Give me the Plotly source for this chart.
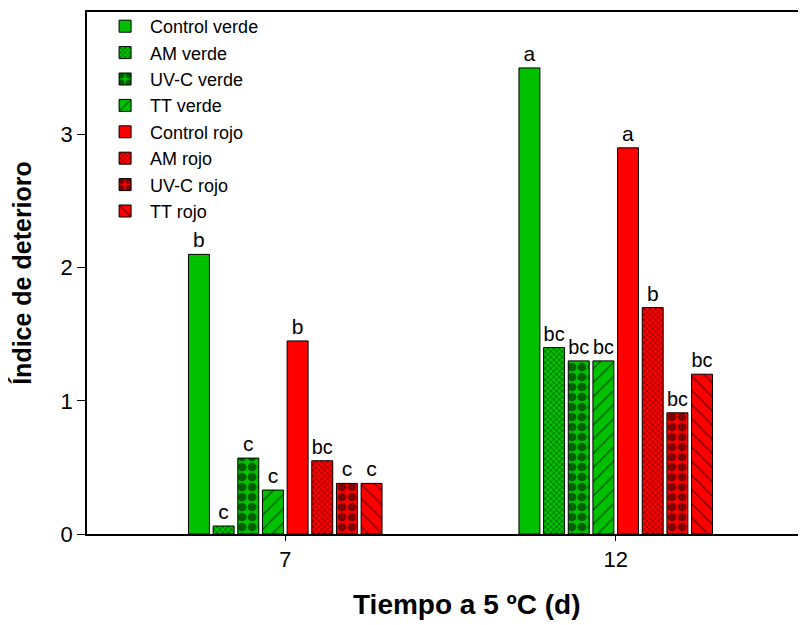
import plotly.graph_objects as go

categories = ["7", "12"]
series_names = ["Control verde", "AM verde", "UV-C verde", "TT verde",
                "Control rojo", "AM rojo", "UV-C rojo", "TT rojo"]
values = {
    "Control verde": [2.10, 3.50],
    "AM verde": [0.06, 1.40],
    "UV-C verde": [0.57, 1.30],
    "TT verde": [0.33, 1.30],
    "Control rojo": [1.45, 2.90],
    "AM rojo": [0.55, 1.70],
    "UV-C rojo": [0.38, 0.91],
    "TT rojo": [0.38, 1.20],
}
letters = {
    "Control verde": ["b", "a"],
    "AM verde": ["c", "bc"],
    "UV-C verde": ["c", "bc"],
    "TT verde": ["c", "bc"],
    "Control rojo": ["b", "a"],
    "AM rojo": ["bc", "b"],
    "UV-C rojo": ["c", "bc"],
    "TT rojo": ["c", "bc"],
}
x_title = "<b>Tiempo a 5 ºC (d)</b>"
y_title = "<b>Índice de deterioro</b>"

GREEN = "#00C000"
RED = "#FF0000"
styles = {
    "Control verde": (GREEN, "", 8, 0.3),
    "AM verde": (GREEN, "x", 4, 0.35),
    "UV-C verde": (GREEN, ".", 10, 0.6),
    "TT verde": (GREEN, "/", 10, 0.15),
    "Control rojo": (RED, "", 8, 0.3),
    "AM rojo": (RED, "x", 4, 0.35),
    "UV-C rojo": (RED, ".", 10, 0.6),
    "TT rojo": (RED, "\\", 10, 0.15),
}

FONT = "Liberation Sans, Arial, sans-serif"

fig = go.Figure()
for name in series_names:
    col, shape, size, sol = styles[name]
    fig.add_trace(go.Bar(
        name=name, x=categories, y=values[name],
        text=letters[name], textposition="outside",
        textfont=dict(family=FONT, size=21, color="black"),
        cliponaxis=False,
        legendgroup=name,
        marker=dict(color=col, line=dict(color="black", width=1),
                    pattern=dict(shape=shape, fgcolor="black", bgcolor=col,
                                 size=size, solidity=sol, fillmode="overlay")),
    ))

# the page body adds an 8px offset; margins compensate so the plot sits where the reference has it
fig.update_layout(
    width=806, height=625,
    margin=dict(l=79, r=0, t=1, b=99),
    paper_bgcolor="white", plot_bgcolor="white",
    barmode="group", bargap=0.403, bargroupgap=0.15,
    font=dict(family=FONT, size=21, color="black"),
    showlegend=True,
    legend=dict(x=0.018, y=1.008, xanchor="left", yanchor="top",
                bgcolor="rgba(0,0,0,0)", borderwidth=0,
                font=dict(size=18), tracegroupgap=0, itemwidth=40),
    xaxis=dict(type="category", range=[-0.6, 1.6],
               showline=True, linecolor="black", linewidth=1.5, mirror=True,
               ticks="outside", ticklen=5, tickcolor="black",
               tickfont=dict(size=22), showgrid=False, zeroline=False),
    yaxis=dict(range=[0, 3.92], tickvals=[0, 1, 2, 3],
               showline=True, linecolor="black", linewidth=1.5,
               ticks="outside", ticklen=8, tickcolor="black",
               tickfont=dict(size=22), showgrid=False, zeroline=False,
               title=dict(text=y_title, font=dict(size=25), standoff=25)),
    annotations=[dict(text=x_title, xref="paper", yref="paper",
                      x=0.523, y=-0.135, xanchor="center", yanchor="middle",
                      showarrow=False, font=dict(size=28, family=FONT, color="black"))],
)

fig.write_html("out.html")
